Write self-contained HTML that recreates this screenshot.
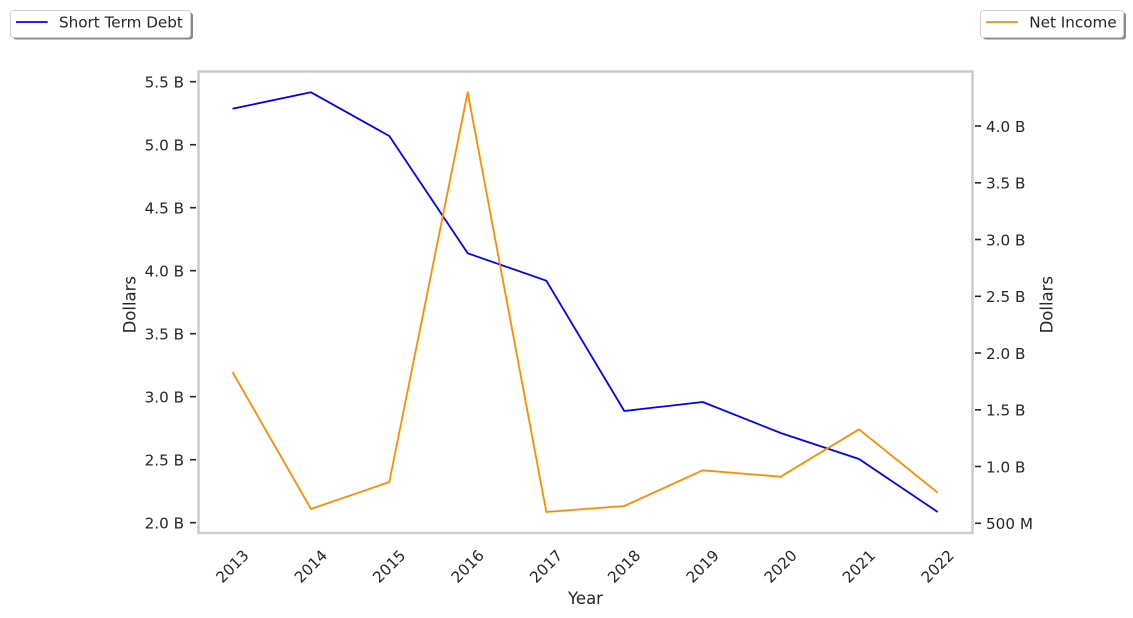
<!DOCTYPE html>
<html>
<head>
<meta charset="utf-8">
<style>
  html, body { margin: 0; padding: 0; background: #ffffff; }
  svg { display: block; }
  text { font-family: "DejaVu Sans", "Liberation Sans", sans-serif; fill: #262626; }
</style>
</head>
<body>
<svg width="1133" height="618" viewBox="0 0 1133 618" xmlns="http://www.w3.org/2000/svg">
  <rect x="0" y="0" width="1133" height="618" fill="#ffffff"/>

  <!-- Series: Short Term Debt (blue) -->
  <polyline fill="none" stroke="#0000ff" stroke-width="1.8" stroke-linejoin="round"
    points="232.5,108.7 311,92.3 389.3,136 467.7,253.3 546.3,280.7 624.3,411 702.7,402 780.7,433 859,459 937.7,512"/>
  <!-- Series: Net Income (orange) -->
  <polyline fill="none" stroke="#ff8c00" stroke-width="1.8" stroke-linejoin="round"
    points="232.5,372 311,509 389.3,482 467.7,92.3 546.3,512 624.3,506 702.7,470.3 780.7,476.7 859,429.3 937.7,492.7"/>

  <!-- Axes frame -->
  <rect x="198.5" y="71.5" width="774" height="461.5" fill="none" stroke="#cccccc" stroke-width="2.5"/>

  <!-- Left ticks -->
  <g stroke="#262626" stroke-width="1.6">
    <line x1="190" y1="81.7" x2="196" y2="81.7"/>
    <line x1="190" y1="144.7" x2="196" y2="144.7"/>
    <line x1="190" y1="207.7" x2="196" y2="207.7"/>
    <line x1="190" y1="270.7" x2="196" y2="270.7"/>
    <line x1="190" y1="333.7" x2="196" y2="333.7"/>
    <line x1="190" y1="396.7" x2="196" y2="396.7"/>
    <line x1="190" y1="459.7" x2="196" y2="459.7"/>
    <line x1="190" y1="522.7" x2="196" y2="522.7"/>
  </g>
  <g font-size="15.2" text-anchor="end" dominant-baseline="central">
    <text x="184" y="82.5">5.5 B</text>
    <text x="184" y="145.5">5.0 B</text>
    <text x="184" y="208.5">4.5 B</text>
    <text x="184" y="271.5">4.0 B</text>
    <text x="184" y="334.5">3.5 B</text>
    <text x="184" y="397.5">3.0 B</text>
    <text x="184" y="460.5">2.5 B</text>
    <text x="184" y="523.5">2.0 B</text>
  </g>

  <!-- Right ticks -->
  <g stroke="#262626" stroke-width="1.6">
    <line x1="975" y1="126" x2="981" y2="126"/>
    <line x1="975" y1="182.8" x2="981" y2="182.8"/>
    <line x1="975" y1="239.5" x2="981" y2="239.5"/>
    <line x1="975" y1="296.3" x2="981" y2="296.3"/>
    <line x1="975" y1="353" x2="981" y2="353"/>
    <line x1="975" y1="409.8" x2="981" y2="409.8"/>
    <line x1="975" y1="466.5" x2="981" y2="466.5"/>
    <line x1="975" y1="523.3" x2="981" y2="523.3"/>
  </g>
  <g font-size="15.2" text-anchor="start" dominant-baseline="central">
    <text x="986" y="126.8">4.0 B</text>
    <text x="986" y="183.6">3.5 B</text>
    <text x="986" y="240.3">3.0 B</text>
    <text x="986" y="297.1">2.5 B</text>
    <text x="986" y="353.8">2.0 B</text>
    <text x="986" y="410.6">1.5 B</text>
    <text x="986" y="467.3">1.0 B</text>
    <text x="986" y="524.1">500 M</text>
  </g>

  <!-- X tick labels -->
  <g font-size="15.2" text-anchor="middle" dominant-baseline="central">
    <text transform="translate(232.5,566.5) rotate(-45)">2013</text>
    <text transform="translate(311,566.5) rotate(-45)">2014</text>
    <text transform="translate(389.3,566.5) rotate(-45)">2015</text>
    <text transform="translate(467.7,566.5) rotate(-45)">2016</text>
    <text transform="translate(546.3,566.5) rotate(-45)">2017</text>
    <text transform="translate(624.3,566.5) rotate(-45)">2018</text>
    <text transform="translate(702.7,566.5) rotate(-45)">2019</text>
    <text transform="translate(780.7,566.5) rotate(-45)">2020</text>
    <text transform="translate(859,566.5) rotate(-45)">2021</text>
    <text transform="translate(937.7,566.5) rotate(-45)">2022</text>
  </g>

  <!-- Axis labels -->
  <text x="585.5" y="604" font-size="16.5" text-anchor="middle">Year</text>
  <text transform="translate(130,304.7) rotate(-90)" font-size="16.5" text-anchor="middle" dominant-baseline="central">Dollars</text>
  <text transform="translate(1047,304.7) rotate(-90)" font-size="16.5" text-anchor="middle" dominant-baseline="central">Dollars</text>

  <!-- Legend: Short Term Debt -->
  <rect x="13" y="12.5" width="180" height="27" rx="3" fill="#8a8a8a"/>
  <rect x="10.5" y="10.5" width="180" height="27" rx="3" fill="#ffffff" stroke="#d0d0d0" stroke-width="1"/>
  <line x1="16" y1="22" x2="47.7" y2="22" stroke="#0000ff" stroke-width="1.8"/>
  <text x="59" y="22.5" font-size="15.2" dominant-baseline="central">Short Term Debt</text>

  <!-- Legend: Net Income -->
  <rect x="983" y="12.5" width="143" height="27" rx="3" fill="#8a8a8a"/>
  <rect x="980.5" y="10.5" width="143" height="27" rx="3" fill="#ffffff" stroke="#d0d0d0" stroke-width="1"/>
  <line x1="986" y1="22" x2="1017.7" y2="22" stroke="#ff8c00" stroke-width="1.8"/>
  <text x="1029.3" y="22.5" font-size="15.2" dominant-baseline="central">Net Income</text>
</svg>
</body>
</html>
